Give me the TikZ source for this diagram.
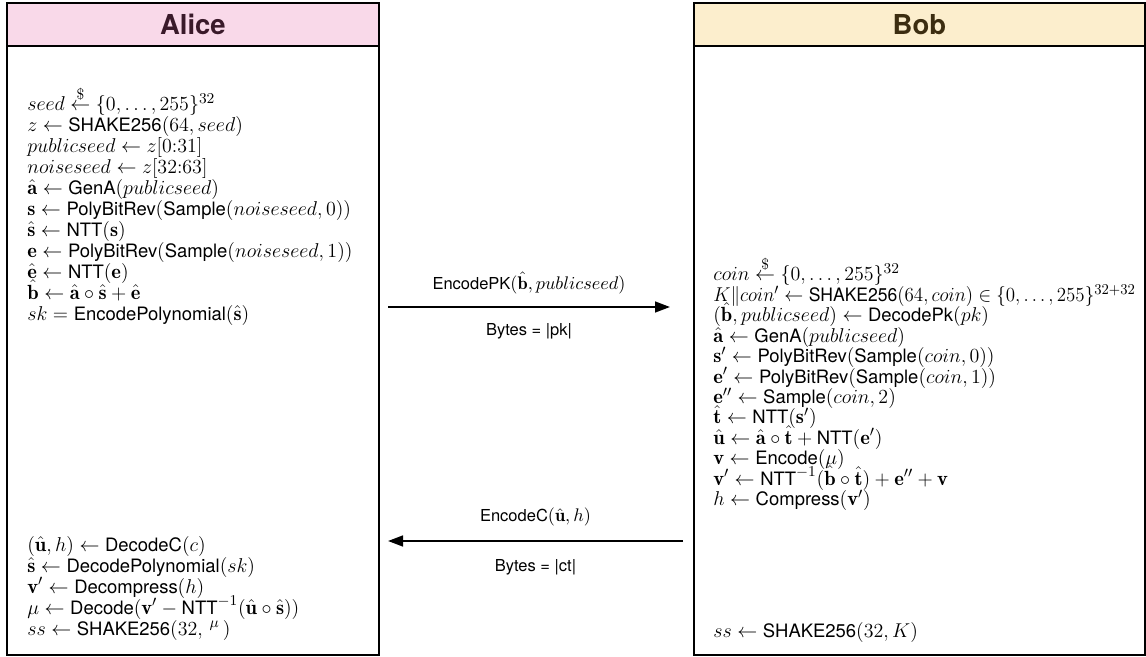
\documentclass[tikz,border=0pt]{standalone}
\usepackage{amsmath}
\usepackage{graphicx}
\usepackage{fontspec}
\setsansfont{TeX Gyre Heros}[Scale=0.9]
\usetikzlibrary{arrows.meta}
\definecolor{alicepink}{RGB}{249,217,233}
\definecolor{alicetext}{RGB}{58,26,42}
\definecolor{bobcream}{RGB}{252,238,205}
\definecolor{bobtext}{RGB}{60,45,16}
\newcommand{\tightlines}[1]{\fontsize{12.3}{#1}\selectfont\lineskiplimit=-20pt\relax}
\begin{document}
\begin{tikzpicture}[x=0.6pt, y=-0.6pt,
    panel/.style={draw, line width=1.1pt, inner sep=0pt, anchor=north west},
    heading/.style={draw, line width=1.1pt, inner sep=0pt, anchor=north west,
        minimum height=25.8pt, font=\sffamily\bfseries\fontsize{18.3}{20}\selectfont},
    steps/.style={inner sep=0pt, anchor=north west, align=left, font={\tightlines{12.55pt}}},
    bobsteps/.style={steps, font={\tightlines{12.25pt}}},
    msg/.style={line width=1.2pt, -{Triangle[length=9pt, width=6.5pt]}},
    msglabel/.style={font=\fontsize{11}{13}\selectfont}]
    \useasboundingbox (0, 0) rectangle (1146, 657);
        % the two parties
        \node[panel, minimum width=223.2pt, minimum height=391.2pt] (alice) at (6, 2) {};
        \node[panel, minimum width=270.6pt, minimum height=391.2pt] (bob) at (693, 2) {};
        \node[heading, fill=alicepink, text=alicetext, minimum width=223.2pt] (alicehead) at (6, 2) {Alice};
        \node[heading, fill=bobcream, text=bobtext, minimum width=270.6pt] (bobhead) at (693, 2) {Bob};
        % key generation
        \node[steps] (keygen) at (27, 86) {%
            $seed \overset{\$}{\leftarrow} \{0,\dots,255\}^{32}$\\
            $z \leftarrow \textsf{SHAKE256}(64, seed)$\\
            $publicseed \leftarrow z[0{:}31]$\\
            $noiseseed \leftarrow z[32{:}63]$\\
            $\hat{\mathbf{a}} \leftarrow \textsf{GenA}(publicseed)$\\
            $\mathbf{s} \leftarrow \textsf{PolyBitRev}(\textsf{Sample}(noiseseed, 0))$\\
            $\hat{\mathbf{s}} \leftarrow \textsf{NTT}(\mathbf{s})$\\
            $\mathbf{e} \leftarrow \textsf{PolyBitRev}(\textsf{Sample}(noiseseed, 1))$\\
            $\hat{\mathbf{e}} \leftarrow \textsf{NTT}(\mathbf{e})$\\
            $\hat{\mathbf{b}} \leftarrow \hat{\mathbf{a}} \circ \hat{\mathbf{s}} + \hat{\mathbf{e}}$\\
            $sk = \textsf{EncodePolynomial}(\hat{\mathbf{s}})$};
        % encapsulation
        \node[bobsteps] (encaps) at (713, 256) {%
            $coin \overset{\$}{\leftarrow} \{0,\dots,255\}^{32}$\\
            \scalebox{0.95}[1]{$K\|coin' \leftarrow \textsf{SHAKE256}(64, coin) \in \{0,\dots,255\}^{32+32}$}\\
            $(\hat{\mathbf{b}}, publicseed) \leftarrow \textsf{DecodePk}(pk)$\\
            $\hat{\mathbf{a}} \leftarrow \textsf{GenA}(publicseed)$\\
            $\mathbf{s}' \leftarrow \textsf{PolyBitRev}(\textsf{Sample}(coin, 0))$\\
            $\mathbf{e}' \leftarrow \textsf{PolyBitRev}(\textsf{Sample}(coin, 1))$\\
            $\mathbf{e}'' \leftarrow \textsf{Sample}(coin, 2)$\\
            $\hat{\mathbf{t}} \leftarrow \textsf{NTT}(\mathbf{s}')$\\
            $\hat{\mathbf{u}} \leftarrow \hat{\mathbf{a}} \circ \hat{\mathbf{t}} + \textsf{NTT}(\mathbf{e}')$\\
            $\mathbf{v} \leftarrow \textsf{Encode}(\mu)$\\
            $\mathbf{v}' \leftarrow \textsf{NTT}^{-1}(\hat{\mathbf{b}} \circ \hat{\mathbf{t}}) + \mathbf{e}'' + \mathbf{v}$\\
            $h \leftarrow \textsf{Compress}(\mathbf{v}')$};
        \node[steps, anchor=west] (bobss) at (713, 632) {$ss \leftarrow \textsf{SHAKE256}(32, K)$};
        % decapsulation
        \node[steps] (decaps) at (27, 536) {%
            $(\hat{\mathbf{u}}, h) \leftarrow \textsf{DecodeC}(c)$\\
            $\hat{\mathbf{s}} \leftarrow \textsf{DecodePolynomial}(sk)$\\
            $\mathbf{v}' \leftarrow \textsf{Decompress}(h)$\\
            $\mu \leftarrow \textsf{Decode}(\mathbf{v}' - \textsf{NTT}^{-1}(\hat{\mathbf{u}} \circ \hat{\mathbf{s}}))$\\
            $ss \leftarrow \textsf{SHAKE256}(32,\, {}^{\mu}\,)$};
        % messages
        \coordinate (pkfrom) at (388, 307);
        \coordinate (pkto) at (670, 307);
        \coordinate (ctfrom) at (683, 541);
        \coordinate (ctto) at (388, 541);
        \draw[msg] (pkfrom) -- node[msglabel, above=4pt] {$\textsf{EncodePK}(\hat{\mathbf{b}}, publicseed)$}
            node[msglabel, below=6pt] {\sffamily Bytes = |pk|} (pkto);
        \draw[msg] (ctfrom) -- node[msglabel, above=5pt] {$\textsf{EncodeC}(\hat{\mathbf{u}}, h)$}
            node[msglabel, below=7pt] {\sffamily Bytes = |ct|} (ctto);
    \end{tikzpicture}
\end{document}
